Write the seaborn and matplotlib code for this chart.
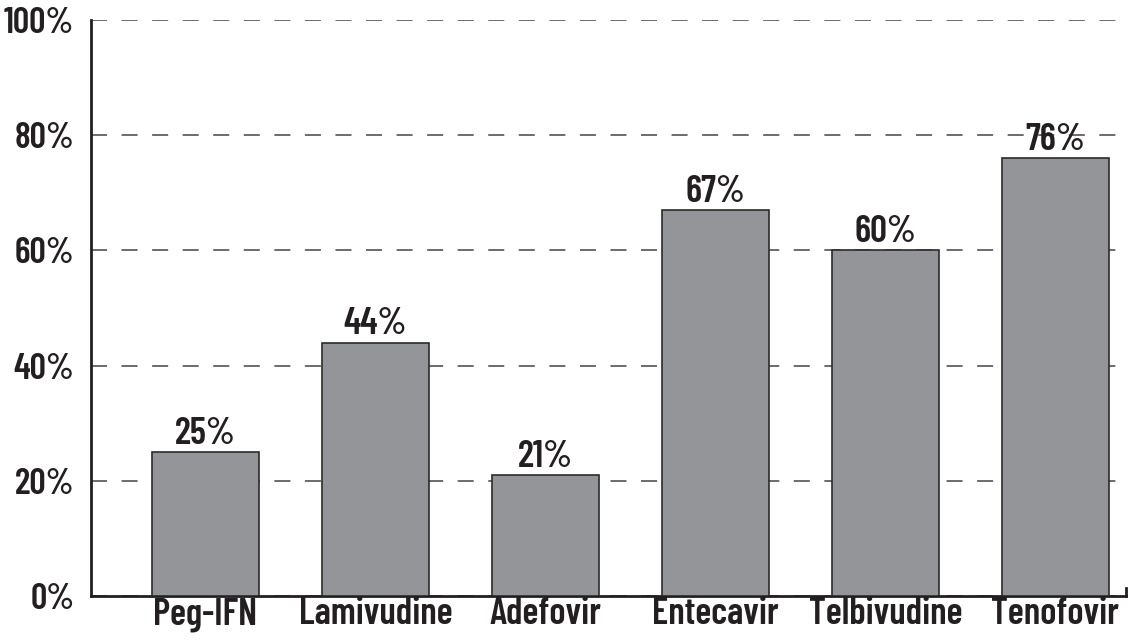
import matplotlib
matplotlib.use("Agg")
import matplotlib.pyplot as plt
import seaborn as sns
import pandas as pd

# values
drugs = ["Peg-IFN", "Lamivudine", "Adefovir", "Entecavir", "Telbivudine", "Tenofovir"]
rates = [25, 44, 21, 67, 60, 76]
yticks = [0, 20, 40, 60, 80, 100]

df = pd.DataFrame({"drug": drugs, "rate": rates})

sns.set_style("white")
plt.rcParams["font.family"] = ["Barlow Condensed", "DejaVu Sans"]
plt.rcParams["font.stretch"] = "condensed"
plt.rcParams["font.weight"] = 600

fig = plt.figure(figsize=(11.28, 6.41), dpi=100)
ax = fig.add_axes([0.0807, 0.0702, 0.9173, 0.8988])

sns.barplot(data=df, x="drug", y="rate", color="#939598", saturation=1,
            width=0.63, edgecolor="#2b2b2b", linewidth=1.2, ax=ax, zorder=3)

for c in ax.containers:
    ax.bar_label(c, labels=[f"{v}%" for v in rates], padding=1,
                 fontsize=27, color="#231f20")

ax.set_ylim(0, 100)
ax.set_xlim(-0.673, 5.415)
ax.set_yticks(yticks)
ax.set_yticklabels([f"{t}%" for t in yticks])
ax.yaxis.grid(True, color="#444444", linewidth=1.1, linestyle=(0, (10.5, 9.5)), zorder=0)
ax.set_axisbelow(True)
ax.xaxis.grid(False)

ax.tick_params(axis="y", direction="in", length=0, pad=12, labelsize=26, labelcolor="#231f20")
ax.tick_params(axis="x", length=0, pad=1, labelsize=27, labelcolor="#231f20")

ax.set_xlabel("")
ax.set_ylabel("")
sns.despine(ax=ax, top=True, right=False)
ax.spines["right"].set_bounds(0, 1.4)
for s in ["left", "bottom", "right"]:
    ax.spines[s].set_linewidth(2)
    ax.spines[s].set_color("#231f20")

fig.savefig("out.png", dpi=100)
